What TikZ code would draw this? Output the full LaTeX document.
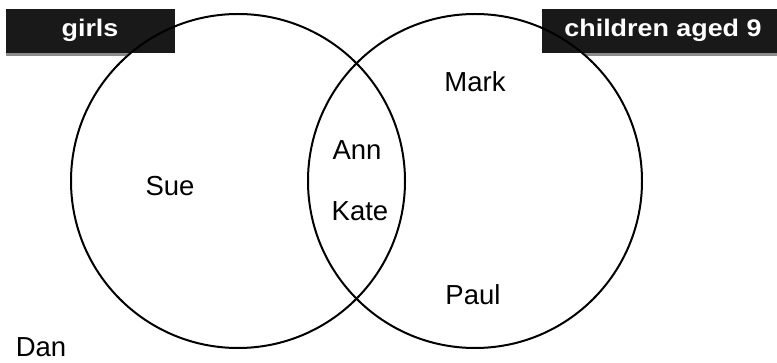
\documentclass[tikz,border=0pt]{standalone}
\usepackage{fontspec}
\setmainfont{Liberation Sans}
\newfontfamily\tagfont[FakeStretch=1.12]{Liberation Sans}
\usetikzlibrary{positioning}

\begin{document}
\begin{tikzpicture}[x=1pt, y=-1pt,
  member/.style={anchor=base, inner sep=0pt, font=\fontsize{27.5}{32}\selectfont},
  settag/.style={anchor=base, inner sep=0pt, text=white, font=\tagfont\bfseries\fontsize{24}{28}\selectfont},
  ring/.style={line width=2pt}]
  \useasboundingbox (0,0) rectangle (777,363);
  % shadows under the set labels
  \fill[black!45] (6,12) rectangle (175,56);
  \fill[black!45] (542,12) rectangle (777,56);
  % the two sets
  \coordinate (G) at (238,181);
  \coordinate (C) at (475,181);
  \fill[white] (G) circle[radius=167];
  \fill[white] (C) circle[radius=167];
  \fill[black!90] (6,9) rectangle (175,53);
  \fill[black!90] (542,9) rectangle (777,53);
  \draw[ring] (G) circle[radius=167];
  \draw[ring] (C) circle[radius=167];
  % labels
  \node[settag] (girls) at (90,37) {girls};
  \node[settag] (aged) at (663,37) {children aged 9};
  % members
  \node[member] (sue) at (170,196) {Sue};
  \node[member] (ann) at (357,160) {Ann};
  \node[member] (kate) at (360,221) {Kate};
  \node[member] (mark) at (475,92) {Mark};
  \node[member] (paul) at (473,305) {Paul};
  \node[member] (dan) at (41,357) {Dan};
\end{tikzpicture}
\end{document}
